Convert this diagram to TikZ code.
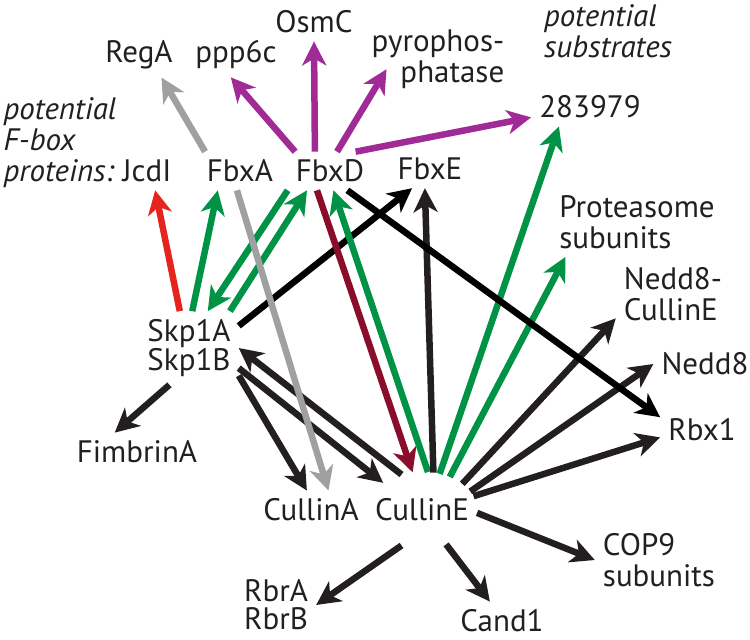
\documentclass[tikz,border=0pt]{standalone}
\usepackage{fontspec}
\setmainfont{PT Sans}
\usetikzlibrary{arrows.meta, shapes}
\definecolor{fgreen}{RGB}{0, 146, 69}
\definecolor{fpurple}{RGB}{160, 42, 150}
\definecolor{fred}{RGB}{230, 36, 30}
\definecolor{fmaroon}{RGB}{138, 14, 44}
\definecolor{fgray}{RGB}{160, 160, 160}
\definecolor{fblack}{RGB}{35, 31, 32}

\begin{document}
\begin{tikzpicture}[x=1pt, y=-1pt]
\tikzstyle{lbl} = [inner sep=8pt, font=\fontsize{31}{31}\selectfont, text=fblack]
\tikzstyle{note} = [lbl, align=left, font=\fontsize{31}{31}\selectfont\itshape]
\tikzstyle{hub} = [lbl, ellipse, inner xsep=-8pt, inner ysep=0pt, minimum height=76pt]
\tikzstyle{arrow} = [line width=6.5pt, -{Stealth[length=24pt, width=24pt, inset=7pt]}]
\useasboundingbox (0,0) rectangle (750,640);

% substrates
\node (regA) [lbl] at (139,55) {RegA};
\node (ppp6c) [lbl] at (236,55) {ppp6c};
\node (osmC) [lbl] at (314,22) {OsmC};
\node (pyro) [lbl, align=right] at (438,59) {pyrophos-\\phatase};
\node (subsLbl) [note] at (608,31) {potential\\substrates};
\node (n283979) [lbl] at (590,107) {283979};

% F-box proteins
\node (fboxLbl) [note] at (60,143) {potential\\F-box\\proteins:};
\node (jcdI) [lbl] at (147,171) {JcdI};
\node (fbxA) [lbl] at (240,171) {FbxA};
\node (fbxD) [lbl] at (330,171) {FbxD};
\node (fbxE) [lbl] at (430,169) {FbxE};

% partners
\node (proteasome) [lbl, align=left] at (637,222) {Proteasome\\subunits};
\node (nedd8CE) [lbl, align=left] at (673,294) {Nedd8-\\CullinE};
\node (nedd8) [lbl] at (705,364) {Nedd8};
\node (rbx1) [lbl] at (702,430) {Rbx1};
\node (skp1) [lbl, align=left] at (189,348) {Skp1A\\[-2pt]Skp1B};
\node (fimbrinA) [lbl] at (137,452) {FimbrinA};
\node (cullinA) [lbl] at (311,510) {CullinA};
\node (cullinE) [hub] at (422,510) {CullinE};
\node (cop9) [lbl, align=left] at (659,560) {COP9\\subunits};
\node (rbr) [lbl, align=left] at (276,605) {RbrA\\[-3pt]RbrB};
\node (cand1) [lbl] at (502,621) {Cand1};

% F-box proteins to substrates
\draw [arrow, fgray] (fbxA.151) -- (regA.-45);
\draw [arrow, fpurple] (fbxD.151) -- (ppp6c.-103);
\draw [arrow, fpurple] (fbxD.128) -- (osmC.south);
\draw [arrow, fpurple, shorten >=-32pt] (fbxD.70) -- (pyro.-151);
\draw [arrow, fpurple] (fbxD.37) -- (n283979.-170);

% Skp1
\draw [arrow, fred] (skp1.104) -- (jcdI.-67);
\draw [arrow, fgreen] (skp1.85) -- (fbxA.-139);
\draw [arrow, fgreen] (fbxD.south west) -- (skp1.63);
\draw [arrow, fgreen] (skp1.42) -- (fbxD.-140);
\draw [arrow, black] (skp1.24) -- (fbxE.-133);
\draw [arrow, fblack] (skp1.-118) -- (fimbrinA.139);
\draw [arrow, fblack] (skp1.-29) -- (cullinA.102);
\draw [arrow, fblack] (skp1.-22) -- (cullinE.145);
\draw [arrow, fblack] (cullinE.120) -- (skp1.east);

% cullins
\draw [arrow, fgray] (fbxA.-99) -- (cullinA.48);
\draw [arrow, fmaroon] (fbxD.-124) -- (cullinE.104);
\draw [arrow, fgreen] (cullinE.81) -- (fbxD.-80);
\draw [arrow, fblack] (cullinE.73) -- (fbxE.-105);
\draw [arrow, fgreen] (cullinE.64) -- (n283979.-148);
\draw [arrow, fgreen] (cullinE.50) -- (proteasome.-154);
\draw [arrow, fblack] (cullinE.33) -- (nedd8CE.-157);
\draw [arrow, fblack] (cullinE.21) -- (nedd8.west);
\draw [arrow, fblack] (cullinE.15) -- (rbx1.-170);
\draw [arrow, fblack] (cullinE.-3) -- (cop9.west);
\draw [arrow, fblack] (cullinE.-55) -- (cand1.122);
\draw [arrow, fblack] (cullinE.240) -- (rbr.east);
\draw [arrow, black] (fbxD.-48) -- (rbx1.163);
\end{tikzpicture}
\end{document}
